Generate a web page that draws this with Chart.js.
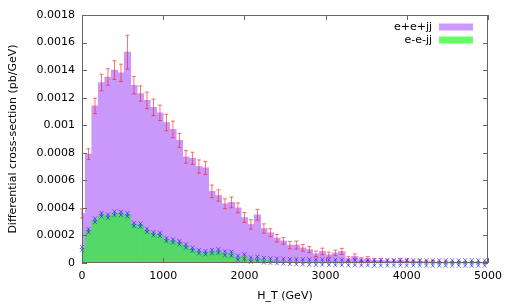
<!DOCTYPE html>
<html>
<head>
<meta charset="utf-8">
<script src="https://cdn.jsdelivr.net/npm/chart.js@4/dist/chart.umd.min.js"></script>
<style>
  html, body { margin: 0; padding: 0; background: #fff; }
  #wrap { width: 509px; height: 305px; position: relative; }
</style>
</head>
<body>
<div id="wrap"><canvas id="htChart"></canvas></div>
<script>
// H_T bin centres (GeV), 80 GeV wide bins
var htBins = [0, 80, 160, 240, 320, 400, 480, 560, 640, 720, 800, 880, 960, 1040, 1120, 1200,
  1280, 1360, 1440, 1520, 1600, 1680, 1760, 1840, 1920, 2000, 2080, 2160, 2240, 2320, 2400,
  2480, 2560, 2640, 2720, 2800, 2880, 2960, 3040, 3120, 3200, 3280, 3360, 3440, 3520, 3600,
  3680, 3760, 3840, 3920, 4000, 4080, 4160, 4240, 4320, 4400, 4480, 4560, 4640, 4720, 4800,
  4880, 4960];

// e+e+jj (pb/GeV) and its errors
var eppjj = [0.00036, 0.00079, 0.00114, 0.00131, 0.00135, 0.00140, 0.00138, 0.00153, 0.00129,
  0.00123, 0.00118, 0.00113, 0.00109, 0.00102, 0.00097, 0.00089, 0.00077, 0.00076, 0.00070,
  0.00069, 0.00052, 0.00049, 0.00043, 0.00044, 0.00040, 0.00033, 0.00028, 0.00035, 0.00025,
  0.00022, 0.00018, 0.00016, 0.00013, 0.00013, 0.00011, 0.000097, 0.000067, 0.000084, 0.00006,
  0.000073, 0.000084, 0.00003, 0.000048, 0.000024, 0.00003, 0.00002, 0.00002, 0.000015,
  0.000015, 0.00002, 0.000015, 0.00001, 0.000012, 0.000008, 0.000008, 0.000005, 0.000006,
  0.000004, 0.000005, 0.000003, 0.000004, 0.000003, 0.000002];
var eppErr = [0.000033, 0.000039, 0.000056, 0.00006, 0.00006, 0.000068, 0.000063, 0.000123,
  0.000063, 0.000055, 0.00006, 0.00006, 0.000056, 0.00006, 0.00006, 0.000051, 0.000046,
  0.000044, 0.000048, 0.000048, 0.000046, 0.000041, 0.000036, 0.000039, 0.000036, 0.000036,
  0.000034, 0.000039, 0.000034, 0.000029, 0.000027, 0.000024, 0.000027, 0.000029, 0.000024,
  0.000022, 0.00002, 0.000024, 0.000018, 0.00002, 0.000022, 0.000016, 0.000018, 0.000014,
  0.000016, 0.000013, 0.000014, 0.000012, 0.000012, 0.000014, 0.000012, 0.00001, 0.000012,
  0.000009, 0.00001, 0.000008, 0.000009, 0.000007, 0.000008, 0.000006, 0.000007, 0.000006,
  0.000005];

// e-e-jj (pb/GeV) and its errors
var emmjj = [0.000105, 0.000235, 0.00031, 0.00035, 0.00034, 0.00036, 0.00036, 0.00035, 0.00028,
  0.000275, 0.000237, 0.000212, 0.000208, 0.00017, 0.00016, 0.000147, 0.000123, 0.0001,
  0.000082, 0.000075, 0.000082, 0.000087, 0.00007, 0.000067, 0.000038, 0.000047, 0.000025,
  0.00003, 0.00002, 0.000017, 0.000015, 0.000013, 0.00001, 0.000009, 0.000008, 0.000007,
  0.000006, 0.000006, 0.000005, 0.000004, 0.000004, 0.000003, 0.000003, 0.000002, 0.000002,
  0.000001, 0.000001, 0.000001, 0.000001, 0.000001, 0.000001, 0.000001, 0.000001, 0,
  0, 0, 0, 0, 0, 0, 0, 0, 0];
var emmErr = [0.000012, 0.000012, 0.000013, 0.000013, 0.000012, 0.000013, 0.000012, 0.000012,
  0.000012, 0.000012, 0.000012, 0.000012, 0.000012, 0.000012, 0.000012, 0.000012, 0.000012,
  0.000012, 0.000012, 0.000012, 0.000013, 0.000014, 0.000015, 0.000015, 0.000015, 0.000016,
  0.000016, 0.000016, 0.000017, 0.000017, 0.000018, 0.000018, 0.000018, 0.000019, 0.000019,
  0.00002, 0.00002, 0.00002, 0.00002, 0.00002, 0.00002, 0.00002, 0.00002, 0.00002, 0.00002,
  0.00002, 0.00002, 0.00002, 0.00002, 0.00002, 0.00002, 0.00002, 0.00002, 0.00002, 0.00002,
  0.00002, 0.00002, 0.00002, 0.00002, 0.00002, 0.00002, 0.00002, 0.00002];

var seriesNames = ['e+e+jj', 'e-e-jj'];
var yTicks = [0, 0.0002, 0.0004, 0.0006, 0.0008, 0.001, 0.0012, 0.0014, 0.0016, 0.0018];
var xTicks = [0, 1000, 2000, 3000, 4000, 5000];

const purple = 'rgb(202,152,250)';
const green = 'rgb(84,216,104)';
const frameCol = '#666';
const font = { family: 'DejaVu Sans', size: 11 };

Chart.defaults.font.family = font.family;
Chart.defaults.font.size = font.size;
Chart.defaults.color = '#000';

const toPoints = (vals) => vals.map((v, i) => ({ x: htBins[i], y: v }));

// vertical error bar with short caps
const errBar = (ctx, x, y1, y2, half) => {
    ctx.beginPath();
    ctx.moveTo(x, y1); ctx.lineTo(x, y2);
    ctx.moveTo(x - half, y1); ctx.lineTo(x + half, y1);
    ctx.moveTo(x - half, y2); ctx.lineTo(x + half, y2);
    ctx.stroke();
};

const cross = (ctx, x, y, s) => {
    ctx.beginPath();
    ctx.moveTo(x - s, y - s); ctx.lineTo(x + s, y + s);
    ctx.moveTo(x - s, y + s); ctx.lineTo(x + s, y - s);
    ctx.stroke();
};

// gnuplot look: error bars, border box, inward ticks, legend
const gnuplotFrame = {
    id: 'gnuplotFrame',
    afterDatasetsDraw(chart) {
        const ctx = chart.ctx;
        const xs = chart.scales.x, ys = chart.scales.y;
        ctx.save();
        ctx.lineWidth = 1;
        // e+e+jj errors in red
        ctx.strokeStyle = 'rgba(255,20,20,0.6)';
        eppjj.forEach((v, i) => {
            const px = xs.getPixelForValue(htBins[i]);
            errBar(ctx, px, ys.getPixelForValue(v + eppErr[i]), ys.getPixelForValue(v - eppErr[i]), 2);
        });
        // e-e-jj errors in blue, crosses at both ends
        ctx.strokeStyle = 'rgba(30,30,255,0.6)';
        emmjj.forEach((v, i) => {
            const px = xs.getPixelForValue(htBins[i]);
            const hi = ys.getPixelForValue(v + emmErr[i]);
            const lo = ys.getPixelForValue(v - emmErr[i]);
            ctx.beginPath(); ctx.moveTo(px, hi); ctx.lineTo(px, lo); ctx.stroke();
            cross(ctx, px, hi, 2);
            cross(ctx, px, lo, 2);
        });
        ctx.restore();
    },
    afterDraw(chart) {
        const ctx = chart.ctx;
        const a = chart.chartArea;
        const xs = chart.scales.x, ys = chart.scales.y;
        ctx.save();
        ctx.strokeStyle = frameCol;
        ctx.lineWidth = 1;
        ctx.strokeRect(a.left + 0.5, a.top + 0.5, a.right - a.left - 1, a.bottom - a.top - 1);
        ctx.beginPath();
        yTicks.forEach(t => {
            const py = Math.round(ys.getPixelForValue(t)) + 0.5;
            ctx.moveTo(a.left, py); ctx.lineTo(a.left + 5, py);
            ctx.moveTo(a.right, py); ctx.lineTo(a.right - 5, py);
        });
        xTicks.forEach(t => {
            const px = Math.round(xs.getPixelForValue(t)) + 0.5;
            ctx.moveTo(px, a.bottom); ctx.lineTo(px, a.bottom - 5);
            ctx.moveTo(px, a.top); ctx.lineTo(px, a.top + 5);
        });
        ctx.stroke();

        // legend, text on the left of the swatch
        ctx.font = font.size + 'px ' + font.family;
        ctx.textAlign = 'right';
        ctx.textBaseline = 'middle';
        ctx.fillStyle = '#000';
        const swatch = ['rgb(204,153,255)', 'rgb(102,255,102)'];
        seriesNames.forEach((name, k) => {
            const cy = 27 + k * 13;
            ctx.fillStyle = '#000';
            ctx.fillText(name, 432, cy);
            ctx.fillStyle = swatch[k];
            ctx.fillRect(439, cy - 3.5, 34, 7);
        });
        ctx.restore();
    }
};

var htCtx = document.getElementById('htChart');

var htChart = new Chart(htCtx, {
    type: 'bar',
    data: {
        datasets: [
            {
                label: seriesNames[1],
                data: toPoints(emmjj),
                backgroundColor: green,
                grouped: false,
                barPercentage: 1,
                categoryPercentage: 1
            },
            {
                label: seriesNames[0],
                data: toPoints(eppjj),
                backgroundColor: purple,
                grouped: false,
                barPercentage: 1,
                categoryPercentage: 1
            }
        ]
    },
    options: {
        responsive: true,
        maintainAspectRatio: false,
        animation: false,
        layout: { padding: { top: 15, right: 21, left: 0, bottom: 0 } },
        plugins: { legend: { display: false }, tooltip: { enabled: false } },
        scales: {
            x: {
                type: 'linear',
                min: 0,
                max: 5000,
                offset: false,
                grid: { display: false, drawTicks: false },
                border: { display: false },
                ticks: { stepSize: 1000, padding: 7, maxRotation: 0, callback: v => String(v) },
                title: { display: true, text: 'H_T (GeV)', padding: { top: 0, bottom: 2 } },
                afterFit: s => { s.height = 42; }
            },
            y: {
                min: 0,
                max: 0.0018,
                grid: { display: false, drawTicks: false },
                border: { display: false },
                ticks: { stepSize: 0.0002, padding: 7, callback: v => String(+v.toFixed(6)) },
                title: { display: true, text: 'Differential cross-section (pb/GeV)', padding: { top: 7, bottom: 0 } },
                afterFit: s => { s.width = 82; }
            }
        }
    },
    plugins: [gnuplotFrame]
});
</script>
</body>
</html>
